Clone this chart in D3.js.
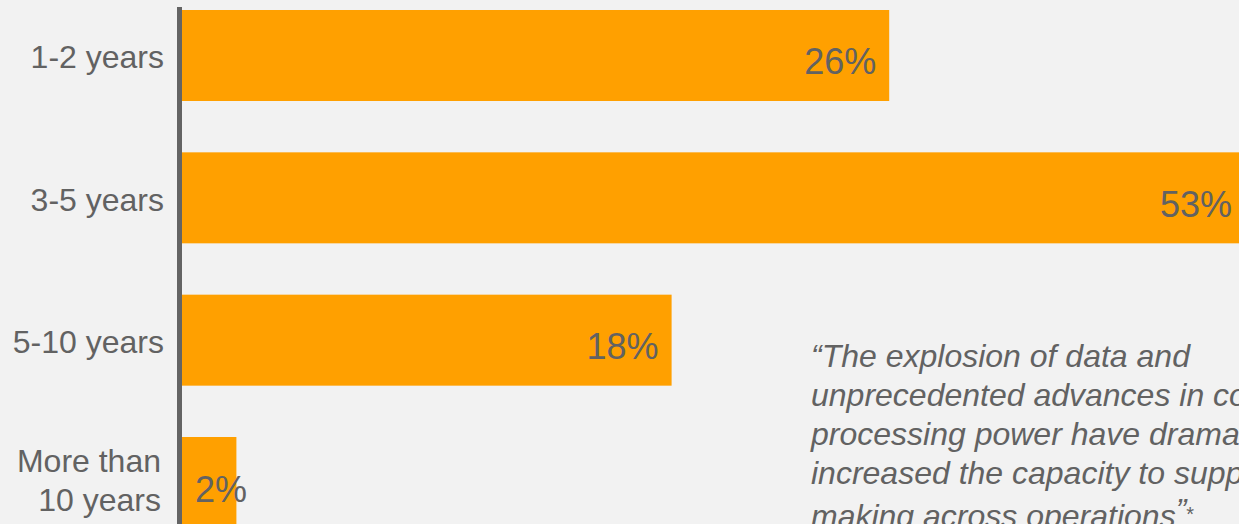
<!DOCTYPE html>
<html>
<head>
<meta charset="utf-8">
<script src="https://cdn.jsdelivr.net/npm/d3@7"></script>
<style>
  html, body { margin: 0; padding: 0; background: #f2f2f2; overflow: hidden; }
  svg { display: block; }
</style>
</head>
<body>
<svg id="chart" width="1239" height="524"></svg>
<script>
// Survey answers: expected time horizon
const categories = ["1-2 years", "3-5 years", "5-10 years", "More than 10 years"];
const categoryLines = [["1-2 years"], ["3-5 years"], ["5-10 years"], ["More than", "10 years"]];
const values = [26, 53, 18, 2];
const valueLabels = ["26%", "53%", "18%", "2%"];
const quoteLines = [
  "\u201CThe explosion of data and",
  "unprecedented advances in computer",
  "processing power have dramatically",
  "increased the capacity to support decision-",
  "making across operations"
];

const W = 1239, H = 524;
const svg = d3.select("#chart");
const FONT = "'Liberation Sans', Arial, Helvetica, sans-serif";
const TEXT = "#626262";

svg.append("rect").attr("width", W).attr("height", H).attr("fill", "#f2f2f2");

const x = d3.scaleLinear().domain([0, 53]).range([182, 182 + 53 * 27.2]);
const y = d3.scaleBand().domain(categories).range([10, 528]).paddingInner(0.3607).paddingOuter(0);

// bars
svg.append("g").selectAll("rect")
  .data(categories)
  .join("rect")
  .attr("x", x(0))
  .attr("y", d => y(d))
  .attr("width", (d, i) => x(values[i]) - x(0))
  .attr("height", y.bandwidth())
  .attr("fill", "#ffa000");

// vertical baseline axis
svg.append("line")
  .attr("x1", 179.5).attr("x2", 179.5)
  .attr("y1", 7).attr("y2", H)
  .attr("stroke", "#646464").attr("stroke-width", 5);

// category labels
const cat = svg.append("g")
  .attr("font-family", FONT).attr("font-size", 32).attr("fill", TEXT)
  .attr("text-anchor", "end");
categories.forEach((c, i) => {
  const lines = categoryLines[i];
  const cy = y(c) + y.bandwidth() / 2;
  const t = cat.append("text").attr("x", 164);
  if (lines.length === 1) {
    t.attr("y", cy + 13).text(lines[0]);
  } else {
    lines.forEach((l, j) => {
      t.append("tspan").attr("x", 161).attr("y", cy - 10.5 + j * 38.5).text(l);
    });
  }
});

// value labels inside bar ends (kept within the visible width)
const val = svg.append("g")
  .attr("font-family", FONT).attr("font-size", 36).attr("fill", TEXT);
categories.forEach((c, i) => {
  const cy = y(c) + y.bandwidth() / 2;
  const barW = x(values[i]) - x(0);
  const t = val.append("text").attr("y", cy + 19).text(valueLabels[i]);
  if (barW < 80) {
    t.attr("x", x(0) + 13).attr("text-anchor", "start");
  } else {
    t.attr("x", Math.min(x(values[i]) - 13, W - 7)).attr("text-anchor", "end");
  }
});

// quotation
const q = svg.append("g")
  .attr("font-family", FONT).attr("font-size", 32).attr("font-style", "italic")
  .attr("fill", TEXT);
const qBase = [367, 406, 445, 484, 527];
quoteLines.forEach((l, i) => {
  const t = q.append("text").attr("x", 811).attr("y", qBase[i]);
  t.append("tspan").text(l);
  if (i === quoteLines.length - 1) {
    t.append("tspan").attr("dy", -6).text("\u201D");
    t.append("tspan").attr("font-size", 20).attr("font-style", "normal").attr("dy", 0).text("*");
  }
});
</script>
</body>
</html>
